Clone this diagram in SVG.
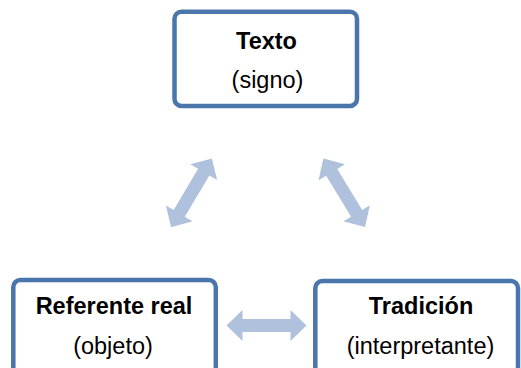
<svg xmlns="http://www.w3.org/2000/svg" width="521" height="368" viewBox="0 0 521 368">
<style>
.box{fill:#ffffff;stroke:#4a76ac;stroke-width:4.5}
.arr{fill:#afc1dd}
.t{font-family:"Liberation Sans",Arial,sans-serif;font-size:23.5px;fill:#000;text-anchor:middle}
.b{font-weight:bold}
</style>
<defs>
<path id="dbl" d="M-40,0 L-24,-15.5 L-24,-6.5 L24,-6.5 L24,-15.5 L40,0 L24,15.5 L24,6.5 L-24,6.5 L-24,15.5 Z"/>
</defs>
<rect width="521" height="368" fill="#ffffff"/>
<g id="connectors">
<use href="#dbl" class="arr" transform="translate(191.5,192.8) rotate(-59.3)"/>
<use href="#dbl" class="arr" transform="translate(344.2,192.8) rotate(58.7)"/>
<use href="#dbl" class="arr" transform="translate(266.5,325.5)"/>
</g>
<g id="texto">
<rect class="box" x="174.5" y="11.7" width="182.5" height="94.3" rx="7"/>
<text class="t b" x="266.5" y="48.5">Texto</text>
<text class="t" x="267.5" y="87.5">(signo)</text>
</g>
<g id="referente">
<rect class="box" x="13.3" y="280" width="202.5" height="100" rx="7"/>
<text class="t b" x="114" y="313.5">Referente real</text>
<text class="t" x="113" y="353.5">(objeto)</text>
</g>
<g id="tradicion">
<rect class="box" x="315.3" y="281" width="202.7" height="100" rx="7"/>
<text class="t b" x="421" y="313.5">Tradición</text>
<text class="t" x="420.5" y="353.5">(interpretante)</text>
</g>
</svg>
